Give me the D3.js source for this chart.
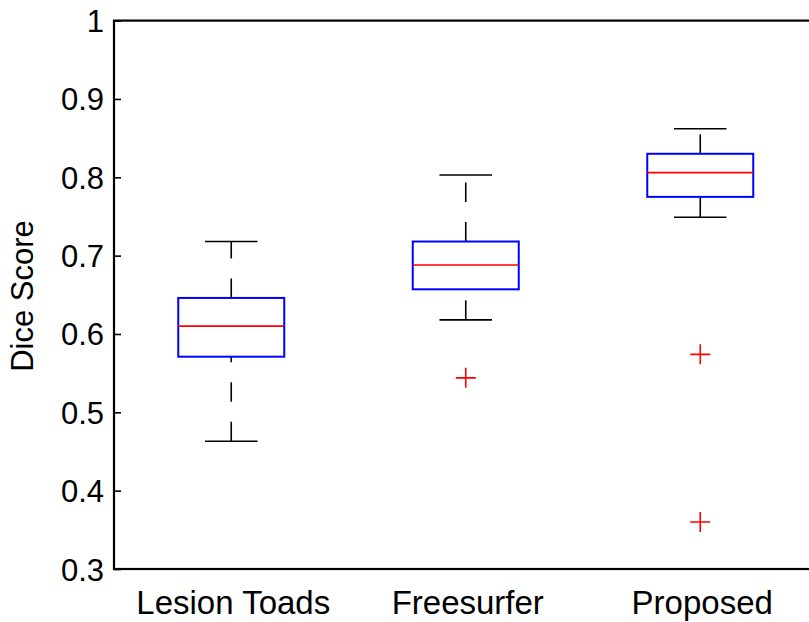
<!DOCTYPE html>
<html>
<head>
<meta charset="utf-8">
<script src="https://cdn.jsdelivr.net/npm/d3@7"></script>
<style>
  body { margin: 0; background: #fff; }
  svg { display: block; }
  text { font-family: "Liberation Sans", Arial, Helvetica, sans-serif; fill: #000; }
</style>
</head>
<body>
<div id="chart"></div>
<script>
const categories = ['Lesion Toads', 'Freesurfer', 'Proposed']
const lowerWhisker = [0.463, 0.618, 0.749]
const q1 = [0.571, 0.657, 0.775]
const median = [0.610, 0.688, 0.806]
const q3 = [0.646, 0.718, 0.830]
const upperWhisker = [0.718, 0.803, 0.862]
const outliers = [[], [0.544], [0.574, 0.360]]
const yTicks = [0.3, 0.4, 0.5, 0.6, 0.7, 0.8, 0.9, 1]

const width = 809
const height = 622

const svg = d3.select('#chart').append('svg')
  .attr('width', width)
  .attr('height', height)

// matlab style: groups at 1..n, xlim [0.5, n+0.5]
const xScale = d3.scaleLinear()
  .domain([0.5, categories.length + 0.5])
  .range([114, 817.5])

const yScale = d3.scaleLinear()
  .domain([0.3, 1])
  .range([569, 20.6])

const boxHalf = 0.226
const capHalf = 0.112

const data = categories.map((name, i) => ({
  name,
  x: i + 1,
  lo: lowerWhisker[i],
  q1: q1[i],
  med: median[i],
  q3: q3[i],
  hi: upperWhisker[i],
  out: outliers[i]
}))

const groups = svg.append('g').selectAll('g')
  .data(data)
  .join('g')

// whiskers, drawn bottom to top so the dash pattern starts at the low end
groups.append('line')
  .attr('x1', d => xScale(d.x)).attr('x2', d => xScale(d.x))
  .attr('y1', d => yScale(d.q3)).attr('y2', d => yScale(d.hi))
  .attr('stroke', '#000').attr('stroke-width', 1.6)
  .attr('stroke-dasharray', '19.5,20')

groups.append('line')
  .attr('x1', d => xScale(d.x)).attr('x2', d => xScale(d.x))
  .attr('y1', d => yScale(d.lo)).attr('y2', d => yScale(d.q1))
  .attr('stroke', '#000').attr('stroke-width', 1.6)
  .attr('stroke-dasharray', '19.5,20')

// caps
groups.selectAll('line.cap')
  .data(d => [d.lo, d.hi].map(v => ({ x: d.x, v })))
  .join('line')
  .attr('class', 'cap')
  .attr('x1', d => xScale(d.x - capHalf))
  .attr('x2', d => xScale(d.x + capHalf))
  .attr('y1', d => yScale(d.v))
  .attr('y2', d => yScale(d.v))
  .attr('stroke', '#000').attr('stroke-width', 1.6)

// boxes
groups.append('rect')
  .attr('x', d => xScale(d.x - boxHalf))
  .attr('y', d => yScale(d.q3))
  .attr('width', d => xScale(d.x + boxHalf) - xScale(d.x - boxHalf))
  .attr('height', d => yScale(d.q1) - yScale(d.q3))
  .attr('fill', 'none')
  .attr('stroke', '#0000ff').attr('stroke-width', 2)

// medians
groups.append('line')
  .attr('x1', d => xScale(d.x - boxHalf))
  .attr('x2', d => xScale(d.x + boxHalf))
  .attr('y1', d => yScale(d.med))
  .attr('y2', d => yScale(d.med))
  .attr('stroke', '#ff0000').attr('stroke-width', 1.6)

// outliers as red plus signs
const plus = 10
groups.selectAll('path.out')
  .data(d => d.out.map(v => ({ x: d.x, v })))
  .join('path')
  .attr('class', 'out')
  .attr('d', d => {
    const cx = xScale(d.x), cy = yScale(d.v)
    return `M${cx - plus},${cy}H${cx + plus}M${cx},${cy - plus}V${cy + plus}`
  })
  .attr('fill', 'none')
  .attr('stroke', '#ff0000').attr('stroke-width', 1.6)

// axes frame
const [x0, x1] = xScale.range()
const [y0, y1] = yScale.range()
svg.append('rect')
  .attr('x', x0).attr('y', y1)
  .attr('width', x1 - x0).attr('height', y0 - y1)
  .attr('fill', 'none')
  .attr('stroke', '#000').attr('stroke-width', 2.2)

// y axis: inward ticks, labels on the left
const yAxis = svg.append('g')
  .attr('transform', `translate(${x0},0)`)
  .call(d3.axisRight(yScale).tickValues(yTicks).tickSize(7).tickFormat(''))
yAxis.select('.domain').remove()
yAxis.selectAll('line').attr('stroke', '#000').attr('stroke-width', 1.6)

svg.append('g').selectAll('text')
  .data(yTicks)
  .join('text')
  .attr('x', x0 - 10)
  .attr('y', d => yScale(d) + 11.5)
  .attr('text-anchor', 'end')
  .style('font-size', '31px')
  .text(d => d3.format('')(d))

// x labels
svg.append('g').selectAll('text')
  .data(data)
  .join('text')
  .attr('x', d => xScale(d.x) + 2)
  .attr('y', 614)
  .attr('text-anchor', 'middle')
  .style('font-size', '33px')
  .text(d => d.name)

svg.append('text')
  .attr('transform', 'translate(33,296) rotate(-90)')
  .attr('text-anchor', 'middle')
  .style('font-size', '31px')
  .text('Dice Score')
</script>
</body>
</html>
